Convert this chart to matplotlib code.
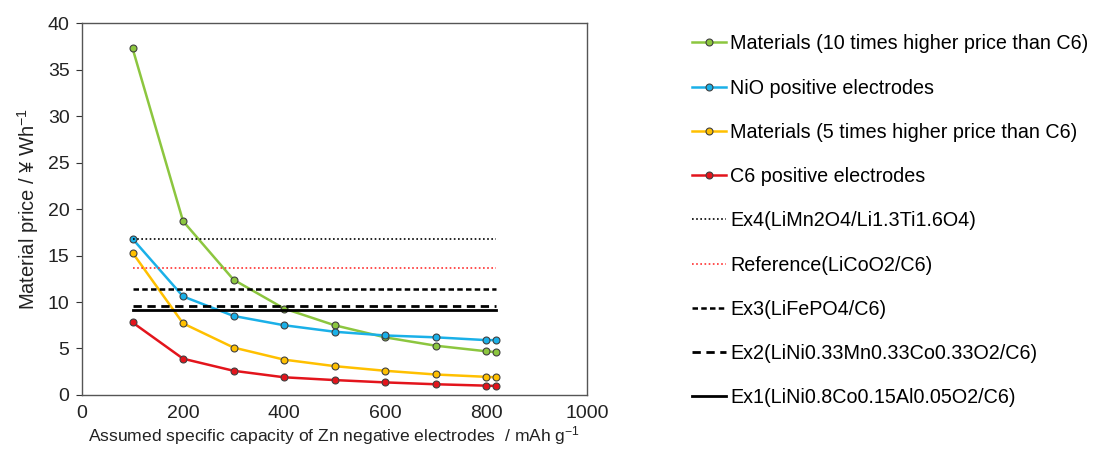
import matplotlib
matplotlib.use("Agg")
import matplotlib.pyplot as plt

plt.rcParams['font.family'] = ['Liberation Sans', 'DejaVu Sans']
plt.rcParams['mathtext.default'] = 'regular'

# capacity of Zn negative electrode (mAh/g)
capacity = [100, 200, 300, 400, 500, 600, 700, 800, 820]

# material price (yen / Wh)
mat_10x = [37.3, 18.7, 12.4, 9.3, 7.5, 6.2, 5.3, 4.7, 4.6]
nio = [16.8, 10.6, 8.5, 7.5, 6.8, 6.4, 6.2, 5.9, 5.9]
mat_5x = [15.3, 7.7, 5.1, 3.8, 3.1, 2.6, 2.2, 1.95, 1.9]
c6 = [7.8, 3.9, 2.6, 1.9, 1.6, 1.35, 1.15, 1.0, 0.97]

# reference cells (constant price)
ex4 = 16.8
ref_licoo2 = 13.65
ex3 = 11.4
ex2 = 9.55
ex1 = 9.15

fig = plt.figure(figsize=(10.94, 4.55), dpi=100)
ax = fig.add_axes([0.075, 0.132, 0.4616, 0.817])

mk = dict(marker='o', markersize=5, markeredgecolor='#404040', markeredgewidth=0.8)
ax.plot(capacity, mat_10x, color='#8CC63F', lw=1.8,
        label='Materials (10 times higher price than C6)', **mk)
ax.plot(capacity, nio, color='#1AB0E8', lw=1.8,
        label='NiO positive electrodes', **mk)
ax.plot(capacity, mat_5x, color='#FFC000', lw=1.8,
        label='Materials (5 times higher price than C6)', **mk)
ax.plot(capacity, c6, color='#E3141C', lw=1.8,
        label='C6 positive electrodes', **mk)

x0, x1 = capacity[0], capacity[-1]
ax.plot([x0, x1], [ex4, ex4], color='black', lw=1.2, ls=(0, (1, 1.5)),
        label='Ex4(LiMn2O4/Li1.3Ti1.6O4)')
ax.plot([x0, x1], [ref_licoo2, ref_licoo2], color='#FF3030', lw=1.2, ls=(0, (1, 1.5)),
        label='Reference(LiCoO2/C6)')
ax.plot([x0, x1], [ex3, ex3], color='black', lw=1.8, ls=(0, (2.2, 1.3)),
        label='Ex3(LiFePO4/C6)')
ax.plot([x0, x1], [ex2, ex2], color='black', lw=2.0, ls=(0, (3, 2)),
        label='Ex2(LiNi0.33Mn0.33Co0.33O2/C6)')
ax.plot([x0, x1], [ex1, ex1], color='black', lw=2.0,
        label='Ex1(LiNi0.8Co0.15Al0.05O2/C6)')

ax.set_xlim(0, 1000)
ax.set_ylim(0, 40)
ax.set_xticks(range(0, 1001, 200))
ax.set_yticks(range(0, 41, 5))
ax.tick_params(axis='both', labelsize=14, colors='#333333', labelcolor='#222222')
ax.tick_params(axis='x', length=0, pad=7)
ax.tick_params(axis='y', length=4, width=0.8, pad=5)
for s in ax.spines.values():
    s.set_color('#555555')
    s.set_linewidth(1.0)

ax.set_xlabel('Assumed specific capacity of Zn negative electrodes  / mAh g$^{-1}$',
              fontsize=12.6, color='#222222', labelpad=2)
ax.set_ylabel('Material price / ¥ Wh$^{-1}$', fontsize=14.5, color='#222222', labelpad=5)

fig.legend(loc='upper left', bbox_to_anchor=(0.625, 0.942), frameon=False,
           fontsize=14.2, labelspacing=1.28, handlelength=1.75, handletextpad=0.2,
           borderaxespad=0)

fig.savefig('out.png', dpi=100)
